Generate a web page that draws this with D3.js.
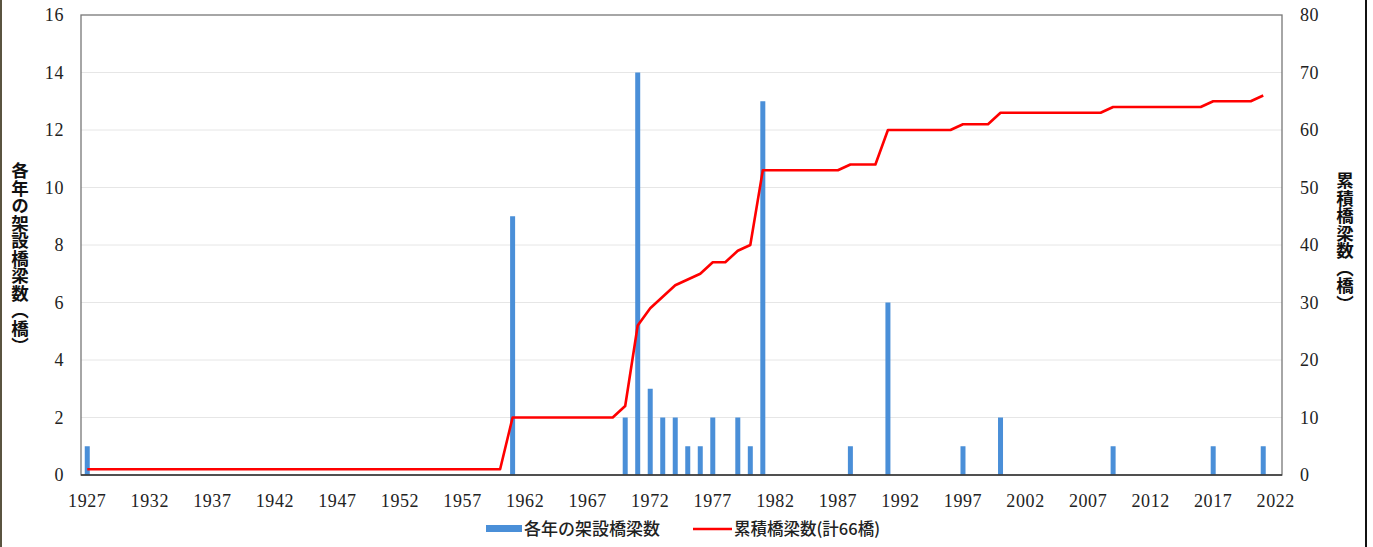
<!DOCTYPE html>
<html>
<head>
<meta charset="utf-8">
<script src="https://d3js.org/d3.v7.min.js"></script>
<style>
  body { margin: 0; background: #fff; }
  svg { display: block; }
</style>
</head>
<body>
<script>
// data
var years = d3.range(1927, 2023);
var builtYears  = [1927, 1961, 1970, 1971, 1972, 1973, 1974, 1975, 1976, 1977, 1979, 1980, 1981, 1988, 1991, 1997, 2000, 2009, 2017, 2021];
var builtCounts = [1,    9,    2,    14,   3,    2,    2,    1,    1,    2,    2,    1,    13,   1,    6,    1,    2,    1,    1,    1];
var lastYear = 2021;
var leftTicks = [0, 2, 4, 6, 8, 10, 12, 14, 16];
var rightTicks = [0, 10, 20, 30, 40, 50, 60, 70, 80];
var xTickYears = d3.range(1927, 2023, 5);

var counts = years.map(function(y) {
  var i = builtYears.indexOf(y);
  return { year: y, n: i < 0 ? 0 : builtCounts[i] };
});
var total = 0;
var cumulative = counts.filter(function(d) { return d.year <= lastYear; }).map(function(d) {
  total += d.n;
  return { year: d.year, total: total };
});

var W = 1373, H = 547;
var margin = {top: 15, right: 91, bottom: 72, left: 81},
    width = W - margin.left - margin.right,
    height = H - margin.top - margin.bottom;

var svg = d3.select("body").append("svg")
    .attr("width", W)
    .attr("height", H);

// frame edges of the scanned picture
svg.append("rect").attr("x", 0).attr("y", 0).attr("width", 2).attr("height", H).attr("fill", "#5a5440");
svg.append("rect").attr("x", 1365).attr("y", 0).attr("width", 2).attr("height", H).attr("fill", "#111");

var g = svg.append("g")
    .attr("transform", "translate(" + margin.left + "," + margin.top + ")");

var x = d3.scaleBand()
    .domain(years)
    .range([0, width]);

var y = d3.scaleLinear()
    .domain([0, 16])
    .range([height, 0]);

var y2 = d3.scaleLinear()
    .domain([0, 80])
    .range([height, 0]);

var serif = "'Liberation Serif', 'DejaVu Serif', serif";
var cjk = "'Noto Sans CJK JP', sans-serif";

// gridlines
g.append("g")
  .selectAll("line")
  .data(leftTicks.slice(1, -1))
  .enter().append("line")
    .attr("x1", 0).attr("x2", width)
    .attr("y1", function(d) { return y(d); })
    .attr("y2", function(d) { return y(d); })
    .attr("stroke", "#e6e6e6")
    .attr("stroke-width", 1);

// bars
var barW = 5;
g.append("g")
  .selectAll("rect")
  .data(counts.filter(function(d) { return d.n > 0; }))
  .enter().append("rect")
    .attr("x", function(d) { return x(d.year) + x.bandwidth() / 2 - barW / 2; })
    .attr("y", function(d) { return y(d.n); })
    .attr("width", barW)
    .attr("height", function(d) { return height - y(d.n); })
    .attr("fill", "#4a8fd8");

// cumulative line
var line = d3.line()
    .x(function(d) { return x(d.year) + x.bandwidth() / 2; })
    .y(function(d) { return y2(d.total); });

g.append("path")
    .datum(cumulative)
    .attr("fill", "none")
    .attr("stroke", "#ff0000")
    .attr("stroke-width", 2.6)
    .attr("stroke-linejoin", "round")
    .attr("d", line);

// frame
g.append("rect")
    .attr("x", 0).attr("y", 0)
    .attr("width", width).attr("height", height)
    .attr("fill", "none")
    .attr("stroke", "#777")
    .attr("stroke-width", 1.3);
g.append("line")
    .attr("x1", 0).attr("x2", width)
    .attr("y1", height).attr("y2", height)
    .attr("stroke", "#333")
    .attr("stroke-width", 1.5);

// axes
function styleTicks(sel) {
  sel.select(".domain").remove();
  sel.selectAll("text")
      .attr("font-family", serif)
      .attr("font-size", "18px")
      .attr("letter-spacing", "0.6px")
      .attr("fill", "#222");
}

var xAxis = d3.axisBottom(x).tickValues(xTickYears).tickSize(0).tickPadding(19);
g.append("g").attr("transform", "translate(0," + height + ")").call(xAxis).call(styleTicks);

var yAxis = d3.axisLeft(y).tickValues(leftTicks).tickSize(0).tickPadding(17);
g.append("g").call(yAxis).call(styleTicks);

var y2Axis = d3.axisRight(y2).tickValues(rightTicks).tickSize(0).tickPadding(18);
g.append("g").attr("transform", "translate(" + width + ",0)").call(y2Axis).call(styleTicks);

// axis titles (vertical)
svg.append("text")
    .attr("x", 20).attr("y", 258)
    .attr("text-anchor", "middle")
    .style("writing-mode", "vertical-rl")
    .attr("font-family", cjk).attr("font-weight", "bold")
    .attr("font-size", "17.5px").attr("fill", "#111")
    .text("各年の架設橋梁数（橋）");

svg.append("text")
    .attr("x", 1345).attr("y", 242)
    .attr("text-anchor", "middle")
    .style("writing-mode", "vertical-rl")
    .attr("font-family", cjk).attr("font-weight", "bold")
    .attr("font-size", "17.5px").attr("fill", "#111")
    .text("累積橋梁数（橋）");

// legend
var lg = svg.append("g").attr("transform", "translate(486,529)");
lg.append("rect").attr("x", 0).attr("y", -4).attr("width", 36).attr("height", 7).attr("fill", "#4a8fd8");
lg.append("text").attr("x", 38).attr("y", 6)
    .attr("font-family", cjk).attr("font-weight", "500").attr("font-size", "17px").attr("fill", "#222")
    .text("各年の架設橋梁数");
lg.append("line").attr("x1", 207).attr("x2", 246).attr("y1", 0).attr("y2", 0)
    .attr("stroke", "#ff0000").attr("stroke-width", 2.6);
lg.append("text").attr("x", 248).attr("y", 6)
    .attr("font-family", cjk).attr("font-weight", "500").attr("font-size", "16.5px").attr("fill", "#222")
    .text("累積橋梁数(計66橋)");
</script>
</body>
</html>
